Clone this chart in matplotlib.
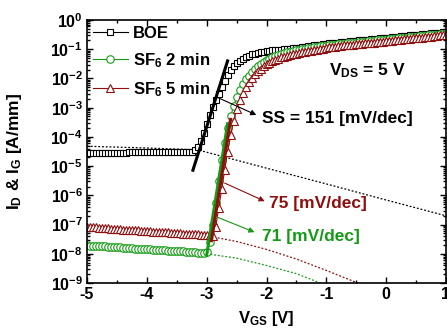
import numpy as np
import matplotlib
matplotlib.use("Agg")
import matplotlib.pyplot as plt
from matplotlib.ticker import LogLocator, MultipleLocator, NullFormatter

plt.rcParams['font.family'] = ['Liberation Sans', 'DejaVu Sans']
plt.rcParams['font.weight'] = 'bold'
plt.rcParams['mathtext.fontset'] = 'custom'
plt.rcParams['mathtext.rm'] = 'Liberation Sans:bold'
plt.rcParams['mathtext.bf'] = 'Liberation Sans:bold'
plt.rcParams['mathtext.it'] = 'Liberation Sans:bold'
plt.rcParams['mathtext.sf'] = 'Liberation Sans:bold'
plt.rcParams['mathtext.default'] = 'rm'
plt.rcParams['axes.unicode_minus'] = False

# ---------------- data ----------------
vgs_start, vgs_step, n_pts = -5.0, 0.05, 121
vgs = np.round(vgs_start + vgs_step * np.arange(n_pts), 3)

boe_log_id = [
    -4.55, -4.55, -4.55, -4.55, -4.55, -4.54, -4.54, -4.54, -4.54, -4.54,
    -4.54, -4.54, -4.54, -4.54, -4.53, -4.53, -4.53, -4.53, -4.53, -4.53,
    -4.53, -4.53, -4.53, -4.53, -4.53, -4.52, -4.52, -4.52, -4.52, -4.52,
    -4.52, -4.52, -4.52, -4.52, -4.52,
    -4.50, -4.45, -4.33, -4.15, -3.85, -3.55, -3.25, -2.98, -2.75, -2.52,
    -2.28, -2.08, -1.88, -1.72, -1.58, -1.47, -1.39, -1.32, -1.27, -1.22,
    -1.18, -1.15, -1.12, -1.10, -1.08, -1.06,
    -1.05, -1.04, -1.03, -1.02, -1.01, -1.00, -0.99, -0.98, -0.97, -0.96,
    -0.95, -0.93, -0.92, -0.90, -0.89, -0.87, -0.86, -0.84, -0.83, -0.82,
    -0.80, -0.79, -0.78, -0.77, -0.76, -0.75, -0.74, -0.73, -0.72, -0.71,
    -0.70, -0.69, -0.68, -0.67, -0.66, -0.65, -0.64, -0.63, -0.62, -0.61,
    -0.60, -0.59, -0.58, -0.57, -0.56, -0.55, -0.54, -0.53, -0.52, -0.51,
    -0.50, -0.49, -0.48, -0.47, -0.46, -0.45, -0.44, -0.43, -0.42, -0.41,
]

sf6_2_log_id = [
    -7.71, -7.72, -7.72, -7.73, -7.74, -7.74, -7.75, -7.76, -7.76, -7.77,
    -7.78, -7.78, -7.79, -7.80, -7.80, -7.81, -7.82, -7.82, -7.83, -7.84,
    -7.84, -7.85, -7.86, -7.86, -7.87, -7.88, -7.88, -7.89, -7.90, -7.90,
    -7.91, -7.92, -7.92, -7.93, -7.94, -7.94, -7.95, -7.96, -7.96, -7.97,
    -7.95, -7.60, -7.00, -6.25, -5.50, -4.80, -4.20, -3.70, -3.30, -2.95,
    -2.65, -2.40, -2.20, -2.03, -1.90, -1.78, -1.68, -1.59, -1.51, -1.44,
    -1.38,
    -1.33, -1.28, -1.24, -1.20, -1.17, -1.14, -1.11, -1.08, -1.06, -1.04,
    -1.02, -1.00, -0.98, -0.96, -0.95, -0.93, -0.92, -0.90, -0.89, -0.88,
    -0.86, -0.85, -0.84, -0.83, -0.82, -0.81, -0.80, -0.79, -0.78, -0.77,
    -0.76, -0.75, -0.74, -0.73, -0.72, -0.71, -0.70, -0.69, -0.68, -0.67,
    -0.66, -0.65, -0.64, -0.63, -0.62, -0.61, -0.60, -0.59, -0.58, -0.57,
    -0.56, -0.55, -0.54, -0.53, -0.52, -0.51, -0.50, -0.49, -0.48, -0.47,
]

sf6_5_log_id = [
    -7.08, -7.09, -7.09, -7.10, -7.11, -7.12, -7.12, -7.13, -7.14, -7.14,
    -7.15, -7.16, -7.17, -7.17, -7.18, -7.19, -7.19, -7.20, -7.21, -7.22,
    -7.22, -7.23, -7.24, -7.24, -7.25, -7.26, -7.27, -7.27, -7.28, -7.29,
    -7.29, -7.30, -7.31, -7.32, -7.32, -7.33, -7.34, -7.34, -7.35, -7.36,
    -7.37, -7.37, -7.38,
    -7.10, -6.45, -5.80, -5.15, -4.50, -3.95, -3.45, -3.05, -2.75, -2.50,
    -2.30, -2.12, -1.98, -1.86, -1.76, -1.67, -1.59, -1.52,
    -1.46, -1.41, -1.36, -1.32, -1.28, -1.25, -1.22, -1.19, -1.17, -1.15,
    -1.13, -1.11, -1.09, -1.07, -1.05, -1.03, -1.01, -0.99, -0.98, -0.96,
    -0.94, -0.93, -0.91, -0.90, -0.88, -0.87, -0.86, -0.85, -0.84, -0.83,
    -0.82, -0.81, -0.80, -0.79, -0.78, -0.77, -0.76, -0.75, -0.74, -0.73,
    -0.72, -0.71, -0.70, -0.69, -0.67, -0.66, -0.65, -0.64, -0.63, -0.62,
    -0.61, -0.60, -0.59, -0.58, -0.57, -0.56, -0.55, -0.53, -0.52, -0.50,
]

# gate currents (dotted)
boe_ig_v = [-5.0, -4.0, -3.2, -3.1, -2.0, -1.0, 0.0, 1.0]
boe_ig_log = [-4.32, -4.38, -4.44, -4.47, -5.07, -5.61, -6.16, -6.70]
sf6_5_ig_v = [-5.0, -4.0, -2.9, -2.5, -2.0, -1.5, -1.0, -0.5, -0.3]
sf6_5_ig_log = [-7.05, -7.20, -7.42, -7.58, -7.85, -8.18, -8.57, -8.98, -9.15]
sf6_2_ig_v = [-5.0, -4.0, -3.0, -2.5, -2.0, -1.5, -1.2, -1.0]
sf6_2_ig_log = [-7.72, -7.85, -8.00, -8.15, -8.40, -8.68, -8.92, -9.10]

# subthreshold-slope fit lines
boe_fit_v, boe_fit_log = [-3.23, -2.65], [-5.14, -1.40]
sf6_2_fit_v, sf6_2_fit_log = [-3.00, -2.65], [-8.05, -3.55]
sf6_5_fit_v, sf6_5_fit_log = [-2.92, -2.60], [-7.55, -3.40]

labels = ['BOE', 'SF$_6$ 2 min', 'SF$_6$ 5 min']
green = '#159a15'
dred = '#8f0e0e'

def p10(a):
    return np.power(10.0, np.asarray(a, dtype=float))

# ---------------- figure ----------------
fig = plt.figure(figsize=(4.47, 3.30), dpi=100)
ax = fig.add_axes([87/447, 47/330, 359/447, 263/330])

ax.plot(boe_ig_v, p10(boe_ig_log), ls=(0, (1.5, 1.5)), color='black', lw=0.9)
ax.plot(sf6_5_ig_v, p10(sf6_5_ig_log), ls=(0, (1.5, 1.5)), color=dred, lw=0.9)
ax.plot(sf6_2_ig_v, p10(sf6_2_ig_log), ls=(0, (1.5, 1.5)), color=green, lw=0.9)

ax.plot(vgs, p10(boe_log_id), '-', color='black', lw=0.8, marker='s', ms=5.0,
        mfc='white', mec='black', mew=0.8, label=labels[0])
ax.plot(vgs, p10(sf6_2_log_id), '-', color=green, lw=0.8, marker='o', ms=5.4,
        mfc='white', mec=green, mew=0.8, label=labels[1])
ax.plot(vgs, p10(sf6_5_log_id), '-', color=dred, lw=0.8, marker='^', ms=5.8,
        mfc='white', mec=dred, mew=0.8, label=labels[2])

ax.plot(boe_fit_v, p10(boe_fit_log), '-', color='black', lw=2.2)
ax.plot(sf6_2_fit_v, p10(sf6_2_fit_log), '-', color=green, lw=2.2)
ax.plot(sf6_5_fit_v, p10(sf6_5_fit_log), '-', color=dred, lw=2.2)

ax.set_yscale('log')
ax.set_xlim(-5, 1)
ax.set_ylim(1e-9, 1)

ax.xaxis.set_major_locator(MultipleLocator(1))
ax.xaxis.set_minor_locator(MultipleLocator(0.5))
ax.yaxis.set_major_locator(LogLocator(base=10, numticks=20))
ax.yaxis.set_minor_locator(LogLocator(base=10, subs=np.arange(2, 10), numticks=20))
ax.yaxis.set_minor_formatter(NullFormatter())

ax.tick_params(which='both', direction='in', top=True, right=True, width=1.0)
ax.tick_params(which='major', length=4.5, labelsize=11.5, pad=3)
ax.tick_params(which='minor', length=2.5)
for lab in ax.get_xticklabels() + ax.get_yticklabels():
    lab.set_fontweight('bold')
for sp in ax.spines.values():
    sp.set_linewidth(1.2)

ax.set_xlabel('V$_{GS}$ [V]', fontsize=12, fontweight='bold', labelpad=5)
ax.set_ylabel('I$_D$ & I$_G$ [A/mm]', fontsize=12.5, fontweight='bold')
ax.yaxis.set_label_coords(-0.175, 0.5)

leg = ax.legend(loc='upper left', frameon=False, fontsize=12, handlelength=2.1,
                handletextpad=0.3, labelspacing=0.62, borderaxespad=0.2,
                borderpad=0.15)

ap = dict(arrowstyle='-|>', lw=0.8, mutation_scale=8, shrinkA=0, shrinkB=0)
ax.annotate('', xy=(-2.17, p10(-3.25)), xytext=(-2.83, p10(-2.64)),
            arrowprops=dict(ap, color='black'))
ax.text(-2.07, p10(-3.36), 'SS = 151 [mV/dec]', fontsize=12.5, fontweight='bold',
        color='black', va='center', ha='left')
ax.annotate('', xy=(-2.03, p10(-6.20)), xytext=(-2.70, p10(-5.58)),
            arrowprops=dict(ap, color=dred))
ax.text(-1.95, p10(-6.27), '75 [mV/dec]', fontsize=12.5, fontweight='bold',
        color=dred, va='center', ha='left')
ax.annotate('', xy=(-2.20, p10(-7.26)), xytext=(-2.82, p10(-6.75)),
            arrowprops=dict(ap, color=green))
ax.text(-2.08, p10(-7.40), '71 [mV/dec]', fontsize=12.5, fontweight='bold',
        color=green, va='center', ha='left')
ax.text(-0.95, p10(-1.72), 'V$_{DS}$ = 5 V', fontsize=12.5, fontweight='bold',
        color='black', va='center', ha='left')

fig.savefig('out.png', dpi=100)
